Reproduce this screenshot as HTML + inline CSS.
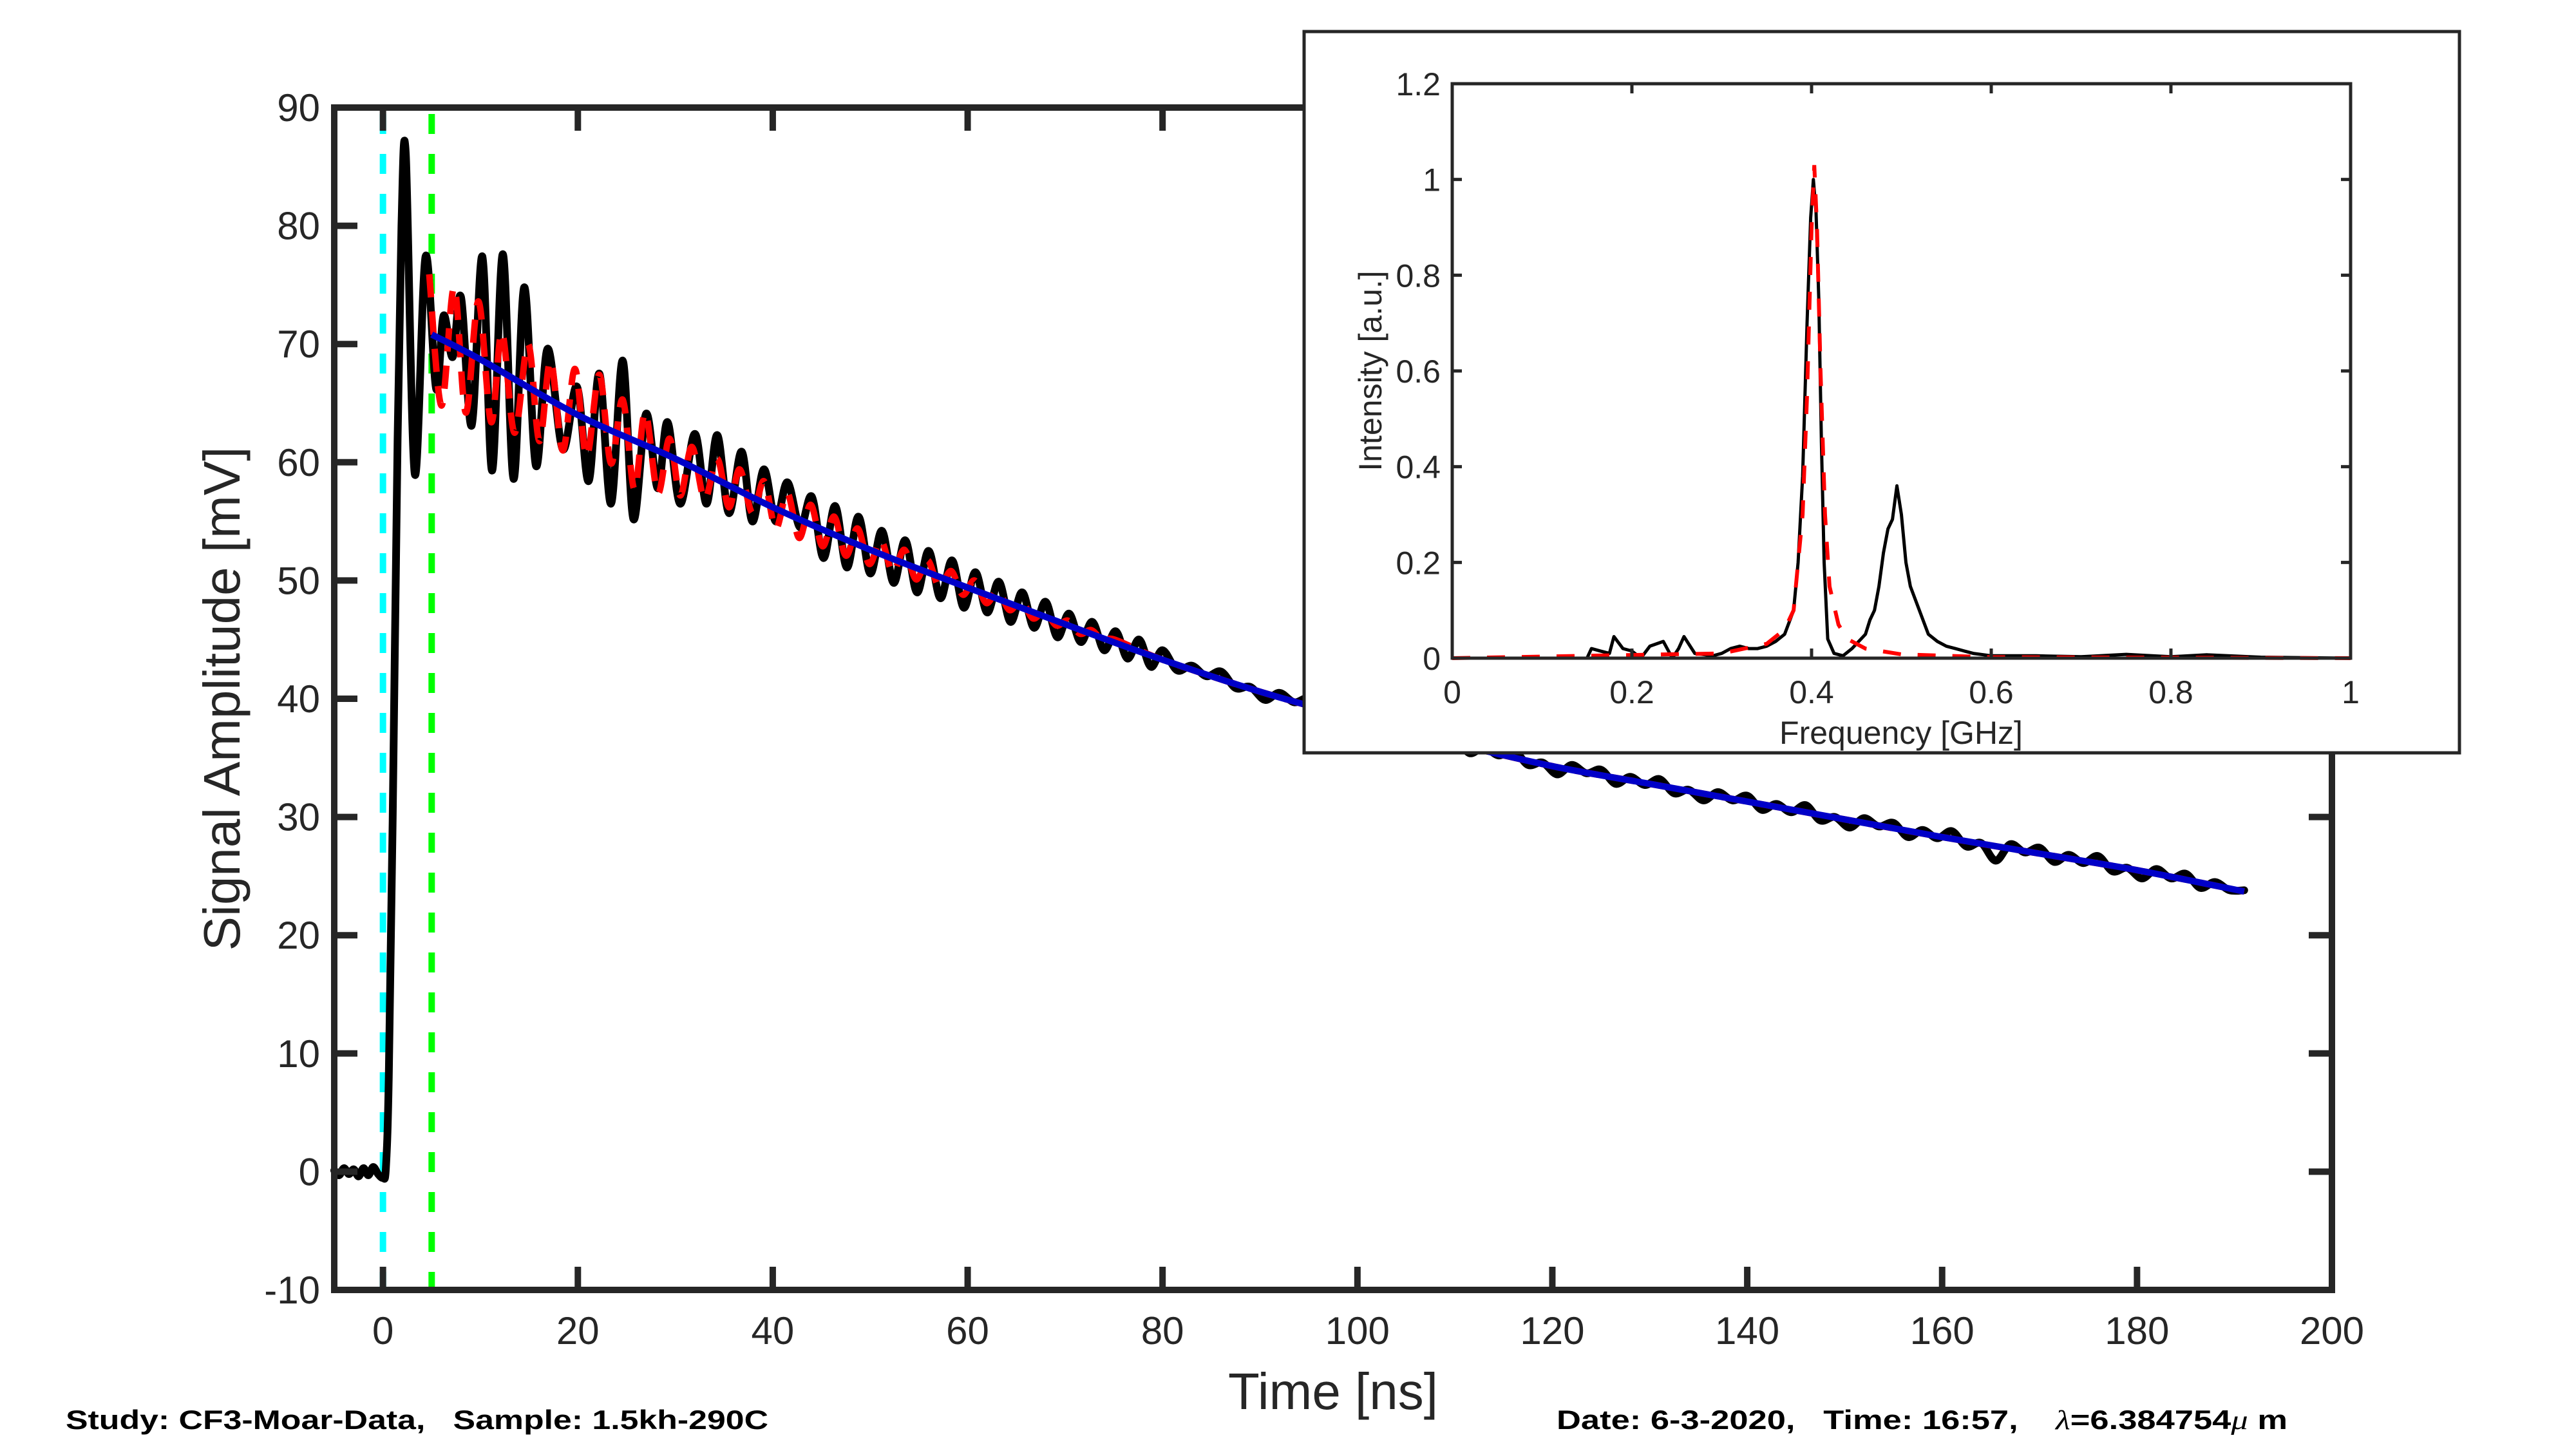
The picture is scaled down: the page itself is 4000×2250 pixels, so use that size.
<!DOCTYPE html>
<html><head><meta charset="utf-8"><style>
html,body{margin:0;padding:0;background:#fff;}
svg{display:block;font-family:"Liberation Sans",Arial,sans-serif;}
</style></head><body>
<svg id="fig" width="4000" height="2250" viewBox="0 0 4000 2250" xmlns="http://www.w3.org/2000/svg">
<rect width="4000" height="2250" fill="#fff"/>
<g id="main"></g>
<g id="inset"></g>
<text x="102" y="2219" font-size="42" font-weight="bold" textLength="1091" lengthAdjust="spacingAndGlyphs" xml:space="preserve">Study: CF3-Moar-Data,   Sample: 1.5kh-290C</text>
<text x="2417" y="2219" font-size="42" font-weight="bold" textLength="1135" lengthAdjust="spacingAndGlyphs" xml:space="preserve">Date: 6-3-2020,   Time: 16:57,    <tspan font-weight="normal" font-style="italic" font-family="'Liberation Serif',serif">λ</tspan>=6.384754<tspan font-weight="normal" font-style="italic" font-family="'Liberation Serif',serif">μ</tspan> m</text>
</svg>
<script>
// ---------- main chart data ----------
const xTicks=[0,20,40,60,80,100,120,140,160,180,200];
const yTicks=[-10,0,10,20,30,40,50,60,70,80,90];
const markerTimes=[0,5];
const blackT=[-5,-4.5,-4,-3.5,-3,-2.5,-2,-1.5,-1,-0.5,0,0.3,0.6,1.0,1.5,1.9,2.34,3.27,4.37,5.46,6.22,7.15,8.0,9.1,10.2,11.2,12.3,13.4,14.5,15.7,16.9,18.45,19.9,21.1,22.2,23.4,24.6,25.7,27.0,28.2,29.2,30.5,32.0,33.2,34.3,35.5,36.8,37.9,39.1,40.3,41.5,42.8,44.0,
45.2,46.4,47.6,48.8,50.0,51.2,52.4,53.6,54.8,56.0,57.2,58.4,59.6,60.8,62.0,63.2,64.4,65.6,66.8,68.0,69.2,70.4,71.6,72.8,74.0,75.2,76.4,77.6,78.8,80.0,
81.5,83,84.5,86,87.5,89,90.5,92,93.5,95,96.5,98,99.5,101,102.5,104,105.5,107,108.5,110,111.5,113,114.5,116,117.5,119,120.5,122,123.5,125,126.5,128,129.5,131,132.5,134,135.5,137,138.5,140,141.5,143,144.5,146,147.5,149,150.5,152,153.5,155,156.5,158,159.5,161,162.5,164,165.5,167,168.5,170,171.5,173,174.5,176,177.5,179,180.5,182,183.5,185,186.5,188,189.5,191];
const blackV=[0.1,-0.3,0.3,-0.2,0.2,-0.4,0.3,-0.3,0.4,-0.2,-0.5,0.3,8,30,62,80,86.1,59.0,77.4,66.2,72.4,68.9,74.0,63.1,77.4,59.3,77.6,58.6,74.8,59.7,69.6,61.1,66.4,58.4,67.5,56.5,68.6,55.2,64.1,57.8,63.4,56.5,62.4,56.5,62.3,55.7,60.9,55.0,59.4,55.0,58.3,54.5,57.1,
51.9,56.3,51.1,55.4,50.6,54.2,49.8,53.4,49.0,52.5,48.5,51.7,47.7,50.7,47.3,49.9,46.5,49.0,46.0,48.2,45.2,47.2,44.8,46.5,44.1,45.7,43.4,45.0,42.7,44.1,
42.4,42.8,41.9,42.3,40.9,41.0,39.9,40.5,39.7,40.0,38.6,39.1,38.2,38.7,37.4,37.6,36.6,37.2,36.4,36.7,35.4,35.9,35.2,35.7,34.4,34.6,33.6,34.4,33.7,34.0,32.8,33.4,32.7,33.2,32.0,32.3,31.4,32.1,31.4,31.8,30.6,31.1,30.4,31.0,29.7,30.0,29.1,29.9,29.2,29.5,28.3,28.9,28.2,28.8,27.5,27.8,26.3,27.7,27.0,27.4,26.2,26.8,26.1,26.7,25.4,25.7,24.8,25.6,24.8,25.2,24.0,24.5,23.8,23.8];
const redT=[4.75,6.0,7.3,8.5,9.8,11.1,12.2,13.5,14.9,16.05,17.2,18.45,19.7,20.9,22.2,23.4,24.6,25.8,26.9,28.2,29.4,30.5,31.7,33.0,34.3,35.5,36.6,37.9,39.1,40.3,41.5,42.7,43.9,45.1,46.3,47.5,48.7,49.9,51.1,52.3,53.5,54.7,55.9,57.1,58.3,59.5,60.7,61.9,63.1,64.3,65.5,66.7,67.9,69.1,70.3,71.5,72.7,73.9,75.1,80,90,100,110,120,130,140,150,160,170,180,191];
const redV=[75.9,64.8,74.8,64.2,73.6,63.4,71.0,62.5,70.0,61.8,68.6,61.0,67.9,60.5,67.4,59.9,65.3,57.7,64.2,57.4,62.0,57.2,61.3,56.9,60.3,56.2,59.4,55.7,58.4,54.4,57.4,53.6,56.4,52.9,55.4,52.1,54.4,51.4,53.4,50.7,52.6,50.1,51.7,49.4,50.8,48.8,50.0,48.1,49.1,47.5,48.3,46.8,47.4,46.2,46.6,45.5,45.8,44.9,45.0,43.3,40.6,38.3,36.2,34.3,32.8,31.3,29.8,28.3,26.9,25.5,23.7];
const fitT=[5,10,20,30,40,50,60,70,80,90,100,110,120,130,140,150,160,170,180,191];
const fitV=[70.8,68.7,64.0,60.3,56.2,52.6,49.4,46.3,43.3,40.6,38.3,36.2,34.3,32.8,31.3,29.8,28.3,26.9,25.5,23.7];
// ---------- inset data ----------
const fTicks=[0,0.2,0.4,0.6,0.8,1];
const iTicks=[0,0.2,0.4,0.6,0.8,1,1.2];
const iTickLabels=["0","0.2","0.4","0.6","0.8","1","1.2"];
const specF=[0,0.15,0.155,0.165,0.175,0.18,0.19,0.2,0.21,0.22,0.235,0.245,0.252,0.258,0.27,0.29,0.3,0.31,0.32,0.33,0.34,0.35,0.36,0.37,0.38,0.385,0.39,0.395,0.399,0.402,0.405,0.408,0.411,0.414,0.418,0.425,0.435,0.445,0.455,0.46,0.465,0.47,0.475,0.48,0.485,0.49,0.495,0.5,0.505,0.51,0.52,0.53,0.54,0.55,0.56,0.57,0.58,0.6,0.65,0.7,0.75,0.8,0.84,0.9,1];
const specV=[0,0,0.02,0.015,0.01,0.045,0.02,0.015,0.0,0.025,0.035,0.0,0.02,0.045,0.01,0.005,0.01,0.02,0.025,0.02,0.02,0.025,0.035,0.05,0.1,0.2,0.38,0.7,0.92,1.0,0.93,0.75,0.45,0.2,0.04,0.01,0.005,0.02,0.04,0.05,0.08,0.1,0.15,0.22,0.27,0.29,0.36,0.3,0.2,0.15,0.1,0.05,0.035,0.025,0.02,0.015,0.01,0.005,0.005,0.003,0.008,0.003,0.007,0.002,0];
const lorF=[0,0.3,0.35,0.37,0.38,0.39,0.395,0.4,0.403,0.406,0.41,0.415,0.42,0.43,0.44,0.46,0.5,0.6,1];
const lorV=[0,0.01,0.03,0.06,0.1,0.3,0.55,0.9,1.03,0.9,0.6,0.3,0.15,0.07,0.04,0.02,0.008,0.002,0];

const NS="http://www.w3.org/2000/svg";
function mk(parent,tag,attrs){const e=document.createElementNS(NS,tag);for(const k in attrs)e.setAttribute(k,attrs[k]);parent.appendChild(e);return e;}
const X0=519,X1=3621,Y0=167,Y1=2003,xmin=-5,xmax=200,ymin=-10,ymax=90;
const sx=t=>X0+(t-xmin)/(xmax-xmin)*(X1-X0);
const sy=v=>Y1-(v-ymin)/(ymax-ymin)*(Y1-Y0);
function crPath(pts){let d="M"+pts[0][0].toFixed(1)+","+pts[0][1].toFixed(1);
for(let i=0;i<pts.length-1;i++){const p0=pts[Math.max(0,i-1)],p1=pts[i],p2=pts[i+1],p3=pts[Math.min(pts.length-1,i+2)];
const c1=[p1[0]+(p2[0]-p0[0])/6,p1[1]+(p2[1]-p0[1])/6],c2=[p2[0]-(p3[0]-p1[0])/6,p2[1]-(p3[1]-p1[1])/6];
d+="C"+c1[0].toFixed(1)+","+c1[1].toFixed(1)+" "+c2[0].toFixed(1)+","+c2[1].toFixed(1)+" "+p2[0].toFixed(1)+","+p2[1].toFixed(1);}return d;}
const main=document.getElementById('main');
const mColors=['#00ffff','#00ff00'];
markerTimes.forEach((t,i)=>{const l=mk(main,'line',{x1:sx(t),x2:sx(t),y1:Y0+10,y2:Y1-5,stroke:mColors[i],'stroke-width':10,'stroke-dasharray':'31 31'});

});
const bp=mk(main,'path',{d:crPath(blackT.map((t,i)=>[sx(t),sy(blackV[i])])),fill:'none',stroke:'#000','stroke-width':12,'stroke-linejoin':'round','stroke-linecap':'round'});


const rp=mk(main,'path',{d:crPath(redT.map((t,i)=>[sx(t),sy(redV[i])])),fill:'none',stroke:'#ff0000','stroke-width':10,'stroke-dasharray':'36 22'});


const fp=mk(main,'path',{d:crPath(fitT.map((t,i)=>[sx(t),sy(fitV[i])])),fill:'none',stroke:'#0000c8','stroke-width':10});


const fr=mk(main,'rect',{x:X0,y:Y0,width:X1-X0,height:Y1-Y0,fill:'none',stroke:'#262626','stroke-width':10});


xTicks.forEach(t=>{const x=sx(t);
mk(main,'line',{x1:x,x2:x,y1:Y1,y2:Y1-36,stroke:'#262626','stroke-width':10});
mk(main,'line',{x1:x,x2:x,y1:Y0,y2:Y0+36,stroke:'#262626','stroke-width':10});
const tx=mk(main,'text',{x:x,y:2087,'font-size':60,'text-anchor':'middle',fill:'#262626'});tx.textContent=t;

});
yTicks.forEach(v=>{const y=sy(v);
mk(main,'line',{x1:X0,x2:X0+36,y1:y,y2:y,stroke:'#262626','stroke-width':10});
mk(main,'line',{x1:X1,x2:X1-36,y1:y,y2:y,stroke:'#262626','stroke-width':10});
const tx=mk(main,'text',{x:497,y:y+21,'font-size':60,'text-anchor':'end',fill:'#262626'});tx.textContent=v;

});
const xl=mk(main,'text',{x:2070,y:2188,'font-size':80,'text-anchor':'middle',fill:'#262626'});xl.textContent='Time [ns]';


const yl=mk(main,'text',{x:0,y:0,'font-size':80,'text-anchor':'middle',fill:'#262626',transform:'translate(372,1085) rotate(-90)'});yl.textContent='Signal Amplitude [mV]';


const ins=document.getElementById('inset');
const ob=mk(ins,'rect',{x:2025,y:49,width:1794,height:1120,fill:'#fff',stroke:'#262626','stroke-width':5});


const IX0=2255,IX1=3650,IY0=130,IY1=1022;
const fx=f=>IX0+f*(IX1-IX0);
const fy=v=>IY1-v/1.2*(IY1-IY0);
const sp=mk(ins,'polyline',{points:specF.map((f,i)=>fx(f).toFixed(1)+","+fy(specV[i]).toFixed(1)).join(' '),fill:'none',stroke:'#000','stroke-width':5,'stroke-linejoin':'round'});


const lp=mk(ins,'polyline',{points:lorF.map((f,i)=>fx(f).toFixed(1)+","+fy(lorV[i]).toFixed(1)).join(' '),fill:'none',stroke:'#ff0000','stroke-width':6,'stroke-dasharray':'28 26'});


const ifr=mk(ins,'rect',{x:IX0,y:IY0,width:IX1-IX0,height:IY1-IY0,fill:'none',stroke:'#262626','stroke-width':5});


fTicks.forEach(f=>{const x=fx(f);
mk(ins,'line',{x1:x,x2:x,y1:IY1,y2:IY1-15,stroke:'#262626','stroke-width':5});
mk(ins,'line',{x1:x,x2:x,y1:IY0,y2:IY0+15,stroke:'#262626','stroke-width':5});
const tx=mk(ins,'text',{x:x,y:1092,'font-size':50,'text-anchor':'middle',fill:'#262626'});tx.textContent=f;

});
iTicks.forEach((v,i)=>{const y=fy(v);
mk(ins,'line',{x1:IX0,x2:IX0+15,y1:y,y2:y,stroke:'#262626','stroke-width':5});
mk(ins,'line',{x1:IX1,x2:IX1-15,y1:y,y2:y,stroke:'#262626','stroke-width':5});
const tx=mk(ins,'text',{x:2237,y:y+18,'font-size':50,'text-anchor':'end',fill:'#262626'});tx.textContent=iTickLabels[i];

});
const ixl=mk(ins,'text',{x:2952,y:1155,'font-size':50,'text-anchor':'middle',fill:'#262626'});ixl.textContent='Frequency [GHz]';


const iyl=mk(ins,'text',{x:0,y:0,'font-size':50,'text-anchor':'middle',fill:'#262626',transform:'translate(2145,576) rotate(-90)'});iyl.textContent='Intensity [a.u.]';


</script>
</body></html>
